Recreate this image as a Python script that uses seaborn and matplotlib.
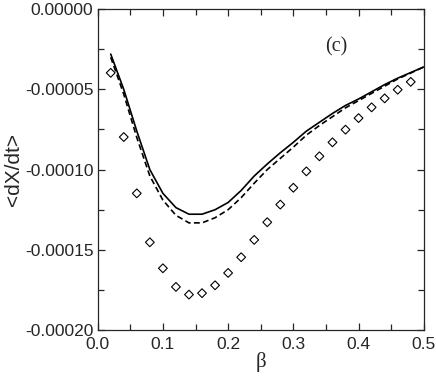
import numpy as np
import pandas as pd
import matplotlib
matplotlib.use("Agg")
import matplotlib.pyplot as plt
from matplotlib.ticker import MultipleLocator, FormatStrFormatter
import seaborn as sns

# beta grid for the curves and the diamond points
beta = [0.02, 0.04, 0.06, 0.08, 0.10, 0.12, 0.14, 0.16, 0.18, 0.20, 0.22, 0.24, 0.26,
        0.28, 0.30, 0.32, 0.34, 0.36, 0.38, 0.40, 0.42, 0.44, 0.46, 0.48, 0.50]

solid = [-2.8e-5, -5.0e-5, -7.6e-5, -1.0e-4, -1.148e-4, -1.237e-4, -1.278e-4, -1.278e-4,
         -1.25e-4, -1.205e-4, -1.13e-4, -1.04e-4, -9.65e-5, -8.95e-5, -8.3e-5, -7.6e-5,
         -7.05e-5, -6.5e-5, -6.0e-5, -5.6e-5, -5.15e-5, -4.7e-5, -4.3e-5, -3.95e-5, -3.6e-5]

dashed = [-3.0e-5, -5.3e-5, -8.0e-5, -1.04e-4, -1.19e-4, -1.285e-4, -1.332e-4, -1.332e-4,
          -1.30e-4, -1.25e-4, -1.175e-4, -1.085e-4, -1.0e-4, -9.3e-5, -8.6e-5, -7.85e-5,
          -7.25e-5, -6.7e-5, -6.15e-5, -5.7e-5, -5.25e-5, -4.8e-5, -4.35e-5, -3.98e-5, -3.6e-5]

beta_pts = [0.02, 0.04, 0.06, 0.08, 0.10, 0.12, 0.14, 0.16, 0.18, 0.20, 0.22, 0.24,
            0.26, 0.28, 0.30, 0.32, 0.34, 0.36, 0.38, 0.40, 0.42, 0.44, 0.46, 0.48]
diamonds = [-3.97e-5, -7.97e-5, -1.148e-4, -1.453e-4, -1.615e-4, -1.731e-4, -1.779e-4,
            -1.770e-4, -1.721e-4, -1.644e-4, -1.546e-4, -1.438e-4, -1.328e-4, -1.218e-4,
            -1.113e-4, -1.011e-4, -9.17e-5, -8.30e-5, -7.51e-5, -6.79e-5, -6.12e-5,
            -5.56e-5, -5.02e-5, -4.53e-5]

sns.set_style("ticks")
plt.rcParams['font.family'] = ['Liberation Sans', 'DejaVu Sans']
plt.rcParams['axes.unicode_minus'] = False

df = pd.DataFrame({'beta': beta, 'solid': solid, 'dashed': dashed})
pts = pd.DataFrame({'beta': beta_pts, 'rate': diamonds})

fig = plt.figure(figsize=(4.36, 3.82), dpi=100)
ax = fig.add_axes([0.224, 0.136, 0.748, 0.840])

sns.lineplot(data=df, x='beta', y='solid', ax=ax, color='black', linewidth=1.2)
sns.lineplot(data=df, x='beta', y='dashed', ax=ax, color='black', linewidth=1.2,
             linestyle=(0, (3.5, 2)))
sns.scatterplot(data=pts, x='beta', y='rate', ax=ax, marker='D', s=20,
                facecolor='none', edgecolor='black', linewidth=0.8)

ax.set_xlim(0, 0.5)
ax.set_ylim(-0.0002, 0)
ax.xaxis.set_major_locator(MultipleLocator(0.1))
ax.xaxis.set_minor_locator(MultipleLocator(0.05))
ax.yaxis.set_major_locator(MultipleLocator(0.00005))
ax.yaxis.set_minor_locator(MultipleLocator(0.000025))
ax.xaxis.set_major_formatter(FormatStrFormatter('%.1f'))
ax.yaxis.set_major_formatter(FormatStrFormatter('%.5f'))
ax.tick_params(which='both', direction='in', top=True, right=True, labelsize=12.5)
ax.tick_params(axis='x', which='major', pad=5)
ax.tick_params(axis='y', which='major', pad=3)
ax.tick_params(which='major', length=5, width=0.9)
ax.tick_params(which='minor', length=4, width=0.9)
for s in ax.spines.values():
    s.set_linewidth(0.9)

ax.set_xlabel('β', family=['Liberation Serif'], fontsize=15, labelpad=0)
ax.set_ylabel('<dX/dt>', fontsize=15, labelpad=1)
ax.text(0.366, -2.37e-5, '(c)', family=['Liberation Serif'], fontsize=14.5,
        ha='center', va='center')

plt.savefig('out.png', dpi=100)
